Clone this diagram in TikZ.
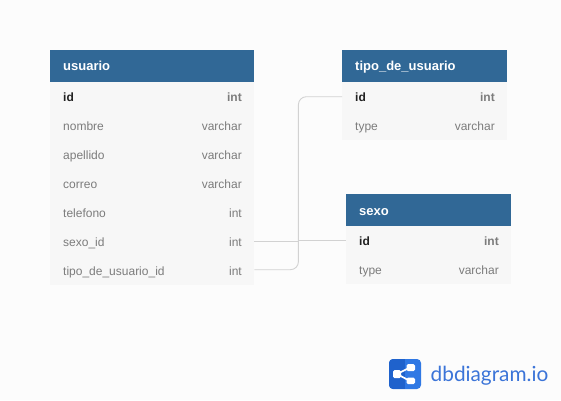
\documentclass[tikz,border=0pt]{standalone}
\usepackage{fontspec}
\setmainfont{Liberation Sans}
\newfontfamily\logofont{Lato}
\definecolor{bgc}{HTML}{FCFCFC}
\definecolor{headc}{HTML}{316896}
\definecolor{rowc}{HTML}{F7F7F7}
\definecolor{greyc}{HTML}{7C7C7C}
\definecolor{darkc}{HTML}{222222}
\definecolor{linec}{HTML}{D2D2D2}
\definecolor{logoa}{HTML}{2F78E4}
\definecolor{logob}{HTML}{1F62CC}
\definecolor{logot}{HTML}{3B74D8}
\tikzset{
 x=1pt,y=-1pt,
 headbox/.style={fill=headc,draw=none,anchor=north west,inner sep=0pt,minimum height=32pt},
 rowbox/.style={fill=rowc,draw=none,anchor=north west,inner sep=0pt,minimum height=29pt},
 lbl/.style={anchor=base west,inner sep=0pt,text=greyc,font=\fontsize{12}{14}\selectfont},
 typ/.style={anchor=base east,inner sep=0pt,text=greyc,font=\fontsize{12}{14}\selectfont},
 idl/.style={lbl,text=darkc,font=\fontsize{12}{14}\selectfont\bfseries},
 idt/.style={typ,font=\fontsize{12}{14}\selectfont\bfseries},
 ttl/.style={anchor=base west,inner sep=0pt,text=white,font=\fontsize{13}{15}\selectfont\bfseries},
 conn/.style={draw=linec,line width=0.9pt,rounded corners=8pt},
}
\begin{document}
\begin{tikzpicture}
\useasboundingbox (0,0) rectangle (561,400);
\fill[bgc] (0,0) rectangle (561,400);
% usuario table
\node[headbox,minimum width=204pt] (uh) at (50,50) {};
\foreach \n/\yy in {uid/82,unom/111,uape/140,ucor/169,utel/198,usex/227,utip/256}
  \node[rowbox,minimum width=204pt] (\n) at (50,\yy) {};
% tipo table
\node[headbox,minimum width=165pt] (th) at (342,50) {};
\foreach \n/\yy in {tid/82,tty/111}
  \node[rowbox,minimum width=165pt] (\n) at (342,\yy) {};
% sexo table
\node[headbox,minimum width=165pt] (sh) at (346,194) {};
\foreach \n/\yy in {sid/226,sty/255}
  \node[rowbox,minimum width=165pt] (\n) at (346,\yy) {};
% connectors
\draw[conn] ([yshift=1pt]utip.east) -- ++(44,0) |- (tid.west);
\draw[draw=linec,line width=0.9pt] ([yshift=0.5pt]usex.east) -- ++(44,0) |- (sid.west);
% usuario
\node[ttl] (utitle) at (63,70) {usuario};
\node[idl] (uidl) at (63,101) {id};
\node[idt] (uidt) at (242,101) {int};
\node[lbl] (unoml) at (63,130) {nombre};
\node[typ] (unomt) at (242,130) {varchar};
\node[lbl] (uapel) at (63,159) {apellido};
\node[typ] (uapet) at (242,159) {varchar};
\node[lbl] (ucorl) at (63,188) {correo};
\node[typ] (ucort) at (242,188) {varchar};
\node[lbl] (utell) at (63,217) {telefono};
\node[typ] (utelt) at (242,217) {int};
\node[lbl] (usexl) at (63,246) {sexo\_id};
\node[typ] (usext) at (242,246) {int};
\node[lbl] (utipl) at (63,275) {tipo\_de\_usuario\_id};
\node[typ] (utipt) at (242,275) {int};
% tipo_de_usuario
\node[ttl] (ttitle) at (355,70) {tipo\_de\_usuario};
\node[idl] (tidl) at (355,101) {id};
\node[idt] (tidt) at (495,101) {int};
\node[lbl] (ttyl) at (355,130) {type};
\node[typ] (ttyt) at (495,130) {varchar};
% sexo
\node[ttl] (stitle) at (359,215) {sexo};
\node[idl] (sidl) at (359,245) {id};
\node[idt] (sidt) at (499,245) {int};
\node[lbl] (styl) at (359,274) {type};
\node[typ] (styt) at (499,274) {varchar};
% logo
\fill[logoa,rounded corners=4pt] (389,359) rectangle (421,389);
\begin{scope}
\clip[rounded corners=4pt] (389,359) rectangle (421,389);
\fill[logob] (389,359) rectangle (405,389);
\end{scope}
\draw[white,line width=1.7pt] (397,374) -- (410,367.5) (397,374) -- (410,381);
\fill[white,rounded corners=1.5pt] (393,370) rectangle (401,378);
\fill[white,rounded corners=1.5pt] (406.5,364) rectangle (415,371);
\fill[white,rounded corners=1.5pt] (406.5,377.5) rectangle (415,384);
\node[anchor=base west,inner sep=0pt,text=logot,font=\logofont\fontsize{20.8}{24}\selectfont] (logo) at (430.5,381) {dbdiagram.io};
\end{tikzpicture}
\end{document}
